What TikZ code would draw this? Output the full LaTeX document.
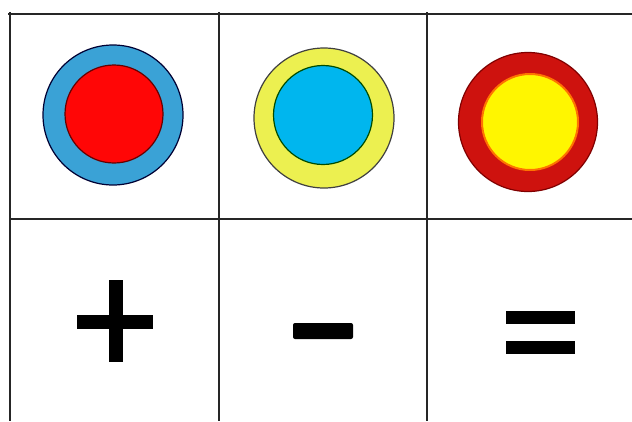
\documentclass[tikz,border=0pt]{standalone}
\begin{document}
\begin{tikzpicture}[x=1pt,y=-1pt,
  gridline/.style={line width=2.2pt,black!85},
  ring/.style={circle,inner sep=0pt,line width=1.2pt},
  bar/.style={fill=black,draw=none}]
\definecolor{ringblue}{RGB}{58,162,214}
\definecolor{dotred}{RGB}{255,6,6}
\definecolor{ringyellow}{RGB}{236,240,80}
\definecolor{dotcyan}{RGB}{0,182,238}
\definecolor{ringred}{RGB}{206,18,14}
\definecolor{dotyellow}{RGB}{255,246,0}
\useasboundingbox (0,0) rectangle (632,421);
\fill[white] (0,0) rectangle (632,421);
% grid
\coordinate (tl) at (8,14);
\coordinate (tr) at (632,14);
\coordinate (ml) at (10,219);
\coordinate (mr) at (632,219);
\draw[gridline] (tl) -- (tr);
\draw[gridline] (ml) -- (mr);
\draw[gridline] (10,12) -- (10,421);
\draw[gridline] (219,12) -- (219,421);
\draw[gridline] (427,12) -- (427,421);
% circles
\node[ring,draw=black!80!blue,fill=ringblue,minimum size=140pt] (c1o) at (113,115) {};
\node[ring,draw=black!60!red,fill=dotred,minimum size=98pt] (c1i) at (114,114) {};
\node[ring,draw=black!75,fill=ringyellow,minimum size=140pt] (c2o) at (324,118) {};
\node[ring,draw=black!70!green,fill=dotcyan,minimum size=99pt] (c3i) at (323,115) {};
\node[ring,draw=black!50!red,fill=ringred,minimum size=139pt] (c3o) at (528,122) {};
\node[ring,draw=orange!90!red,line width=2pt,fill=dotyellow,minimum size=96pt] (c3y) at (530,122) {};
% plus
\fill[bar] (109,280) rectangle (123,362);
\fill[bar] (77,315) rectangle (153,329);
% minus
\fill[bar,rounded corners=2pt] (293,323) rectangle (353,339);
% equals
\fill[bar] (506,311) rectangle (575,324);
\fill[bar] (506,341) rectangle (575,354);
\end{tikzpicture}
\end{document}
